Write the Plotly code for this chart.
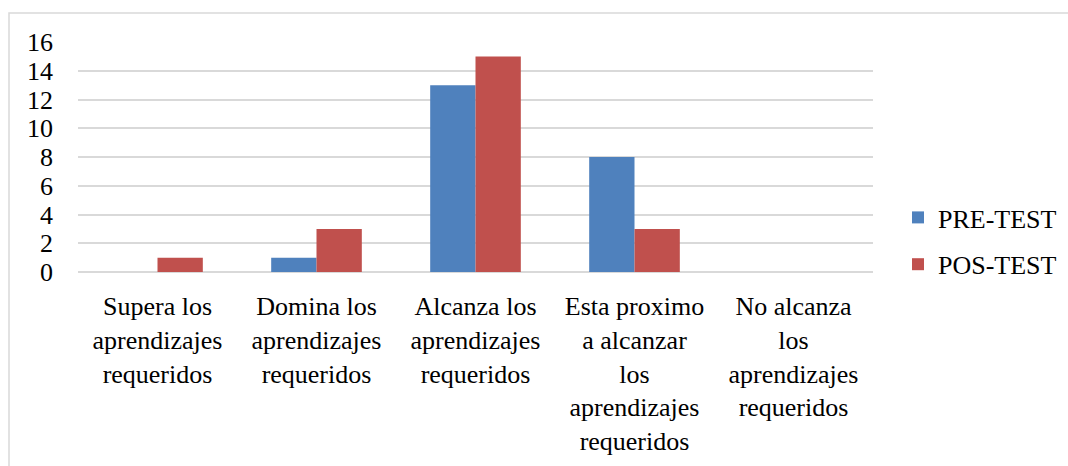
import plotly.graph_objects as go

categories = [
    "Supera los<br>aprendizajes<br>requeridos",
    "Domina los<br>aprendizajes<br>requeridos",
    "Alcanza los<br>aprendizajes<br>requeridos",
    "Esta proximo<br>a alcanzar<br>los<br>aprendizajes<br>requeridos",
    "No alcanza<br>los<br>aprendizajes<br>requeridos",
]
pre_test = [0, 1, 13, 8, 0]
pos_test = [1, 3, 15, 3, 0]
y_ticks = [0, 2, 4, 6, 8, 10, 12, 14, 16]

FONT = "Liberation Serif, Times New Roman, serif"
GRID = "#d9d9d9"
FS = 26

fig = go.Figure()
fig.add_trace(go.Bar(x=categories, y=pre_test, name="PRE-TEST",
                     marker=dict(color="#4F81BD", line=dict(width=0)),
                     legendgroup="pre"))
fig.add_trace(go.Bar(x=categories, y=pos_test, name="POS-TEST",
                     marker=dict(color="#C0504D", line=dict(width=0)),
                     legendgroup="pos"))

W, H = 1068, 466
L, R, T, B = 78, 195, 42, 194
pw, ph = W - L - R, H - T - B

def px_x(v):
    return (v - L) / pw

def px_y(v):
    return (H - B - v) / ph

fig.update_layout(
    width=W, height=H,
    margin=dict(l=L, r=R, t=T, b=B, pad=0, autoexpand=False),
    paper_bgcolor="white", plot_bgcolor="white",
    font=dict(family=FONT, size=FS, color="#000000"),
    barmode="group", bargap=0.43, bargroupgap=0,
    showlegend=True,
    legend=dict(x=px_x(898), y=px_y(194), xanchor="left", yanchor="top",
                font=dict(size=FS, family=FONT), traceorder="grouped",
                tracegroupgap=10, itemwidth=30, bgcolor="rgba(0,0,0,0)"),
    xaxis=dict(showgrid=False, showline=False, ticks="", tickfont=dict(size=FS, family=FONT),
               ticklabelstandoff=16, automargin=False),
    yaxis=dict(range=[0, 16], tickvals=y_ticks, showgrid=True, gridcolor=GRID,
               gridwidth=1.5, zeroline=True, zerolinecolor=GRID, zerolinewidth=1.5,
               showline=False, ticks="", tickfont=dict(size=FS, family=FONT),
               ticklabelstandoff=24, automargin=False),
    shapes=[dict(type="rect", xref="paper", yref="paper",
                 x0=px_x(9), x1=px_x(1090), y0=px_y(700), y1=px_y(13),
                 line=dict(color=GRID, width=1.5), fillcolor="rgba(0,0,0,0)",
                 layer="below")],
)

fig.write_html("out.html")
